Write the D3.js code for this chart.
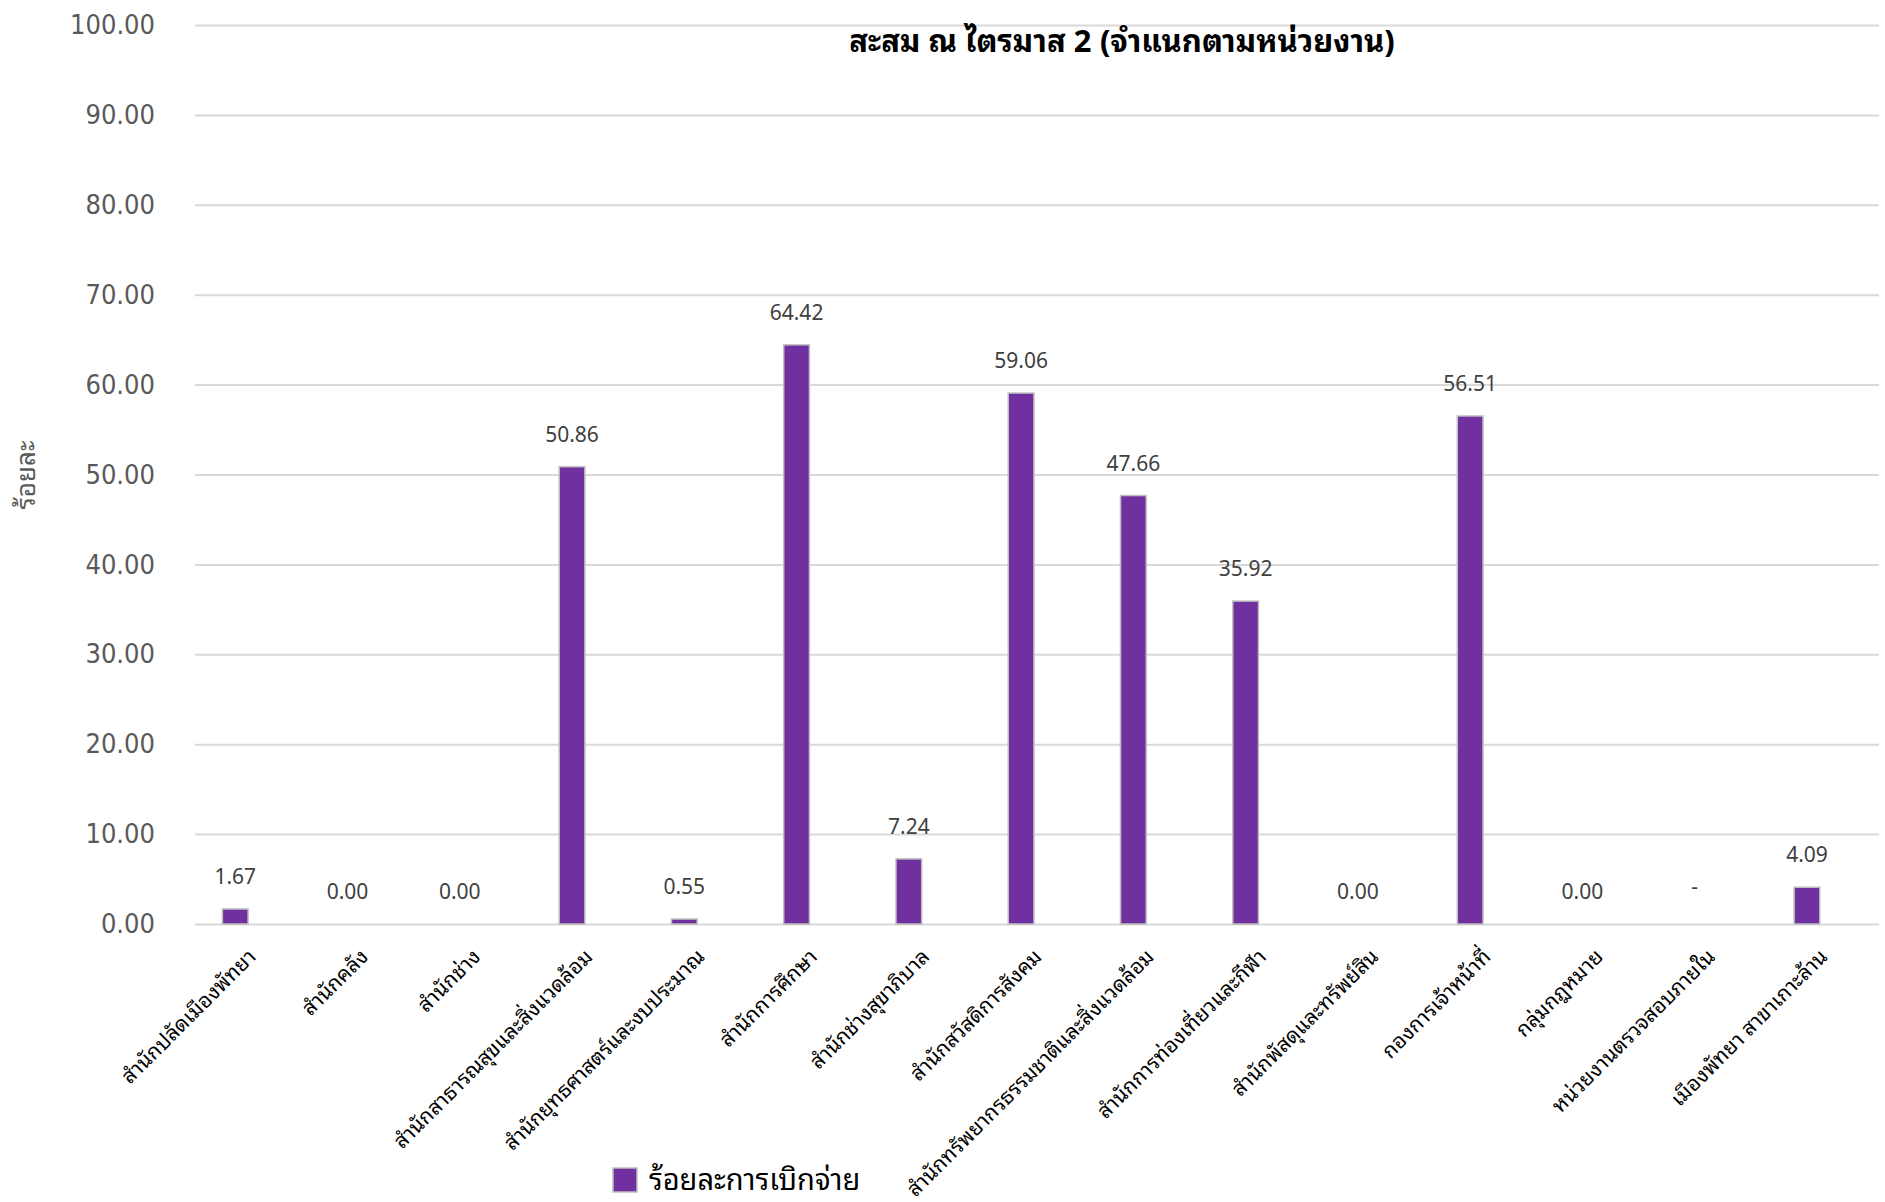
<!DOCTYPE html>
<html>
<head>
<meta charset="utf-8">
<script src="https://cdn.jsdelivr.net/npm/d3@7"></script>
<style>
  body { margin: 0; background: #fff; }
  text { font-family: "Noto Sans Thai Looped", "Noto Sans Thai", "Leelawadee UI", Tahoma, "Noto Sans", sans-serif; }
</style>
</head>
<body>
<svg id="chart"></svg>
<script>
// data
const units = [
    "สำนักปลัดเมืองพัทยา",
    "สำนักคลัง",
    "สำนักช่าง",
    "สำนักสาธารณสุขและสิ่งแวดล้อม",
    "สำนักยุทธศาสตร์และงบประมาณ",
    "สำนักการศึกษา",
    "สำนักช่างสุขาภิบาล",
    "สำนักสวัสดิการสังคม",
    "สำนักทรัพยากรธรรมชาติและสิ่งแวดล้อม",
    "สำนักการท่องเที่ยวและกีฬา",
    "สำนักพัสดุและทรัพย์สิน",
    "กองการเจ้าหน้าที่",
    "กลุ่มกฎหมาย",
    "หน่วยงานตรวจสอบภายใน",
    "เมืองพัทยา สาขาเกาะล้าน"
];
const percents = [1.67, 0, 0, 50.86, 0.55, 64.42, 7.24, 59.06, 47.66, 35.92, 0, 56.51, 0, null, 4.09];
const yTicks = [0, 10, 20, 30, 40, 50, 60, 70, 80, 90, 100];
const seriesName = "ร้อยละการเบิกจ่าย";
const slots = [0, 1]; // the source chart keeps room for a second (empty) series
const title = "สะสม ณ ไตรมาส 2 (จำแนกตามหน่วยงาน)";
const yTitle = "ร้อยละ";

const width = 1885;
const height = 1202;
const svg = d3.select("#chart").attr("width", width).attr("height", height);

const x = d3.scaleBand().domain(units).range([195, 1879]).padding(0);
const xInner = d3.scaleBand().domain(slots).range([0, x.bandwidth()])
    .paddingInner(0).paddingOuter(1.184).align(0.45);
const y = d3.scaleLinear().domain([0, 100]).range([924, 25]);

// gridlines + tick labels
const yAxis = d3.axisLeft(y).tickValues(yTicks).tickFormat(d3.format(".2f"))
    .tickSize(-(1879 - 195)).tickPadding(40);
const gy = svg.append("g").attr("transform", "translate(195,0)").call(yAxis);
gy.select(".domain").remove();
gy.selectAll(".tick line").attr("stroke", "#d9d9d9").attr("stroke-width", 2);
gy.selectAll(".tick text")
    .attr("fill", "#595959")
    .style("font-family", "'Liberation Sans Narrow', 'DejaVu Sans Condensed', 'Noto Sans', sans-serif")
    .attr("font-size", 27);

// bars
const rows = units.map((u, i) => ({ unit: u, value: percents[i] }));
svg.append("g").selectAll("rect")
    .data(rows.filter((d) => d.value !== null))
    .enter()
    .append("rect")
    .attr("x", (d) => x(d.unit) + xInner(0))
    .attr("y", (d) => y(d.value))
    .attr("width", xInner.bandwidth())
    .attr("height", (d) => y(0) - y(d.value))
    .attr("fill", "#7030a0")
    .attr("stroke", "#bfbfbf")
    .attr("stroke-width", 1.5);

// value labels
svg.append("g").selectAll("text")
    .data(rows)
    .enter()
    .append("text")
    .attr("x", (d) => x(d.unit) + xInner(0) + xInner.bandwidth() / 2)
    .attr("y", (d) => (d.value === null ? y(0) - 30 : y(d.value) - 25))
    .attr("text-anchor", "middle")
    .attr("font-size", 21)
    .attr("fill", "#404040")
    .text((d) => (d.value === null ? "-" : d.value.toFixed(2)));

// category labels
svg.append("g").selectAll("text")
    .data(units)
    .enter()
    .append("text")
    .attr("transform", (d) => `translate(${x(d) + x.bandwidth() / 2 + 6},958) rotate(-45)`)
    .attr("text-anchor", "end")
    .attr("font-size", 21)
    .attr("fill", "#000")
    .text((d) => d);

// title
svg.append("text")
    .attr("x", 1122)
    .attr("y", 52)
    .attr("text-anchor", "middle")
    .attr("font-size", 31)
    .attr("font-weight", "bold")
    .attr("fill", "#000")
    .text(title);

// y axis title
svg.append("text")
    .attr("transform", "translate(35,475) rotate(-90)")
    .attr("text-anchor", "middle")
    .attr("font-size", 26)
    .attr("fill", "#595959")
    .text(yTitle);

// legend
const legend = svg.append("g").attr("transform", "translate(613,1168)");
legend.append("rect")
    .attr("width", 24).attr("height", 24)
    .attr("fill", "#7030a0").attr("stroke", "#bfbfbf").attr("stroke-width", 1.5);
legend.append("text")
    .attr("x", 36).attr("y", 22)
    .attr("font-size", 29)
    .attr("fill", "#000")
    .text(seriesName);
</script>
</body>
</html>
